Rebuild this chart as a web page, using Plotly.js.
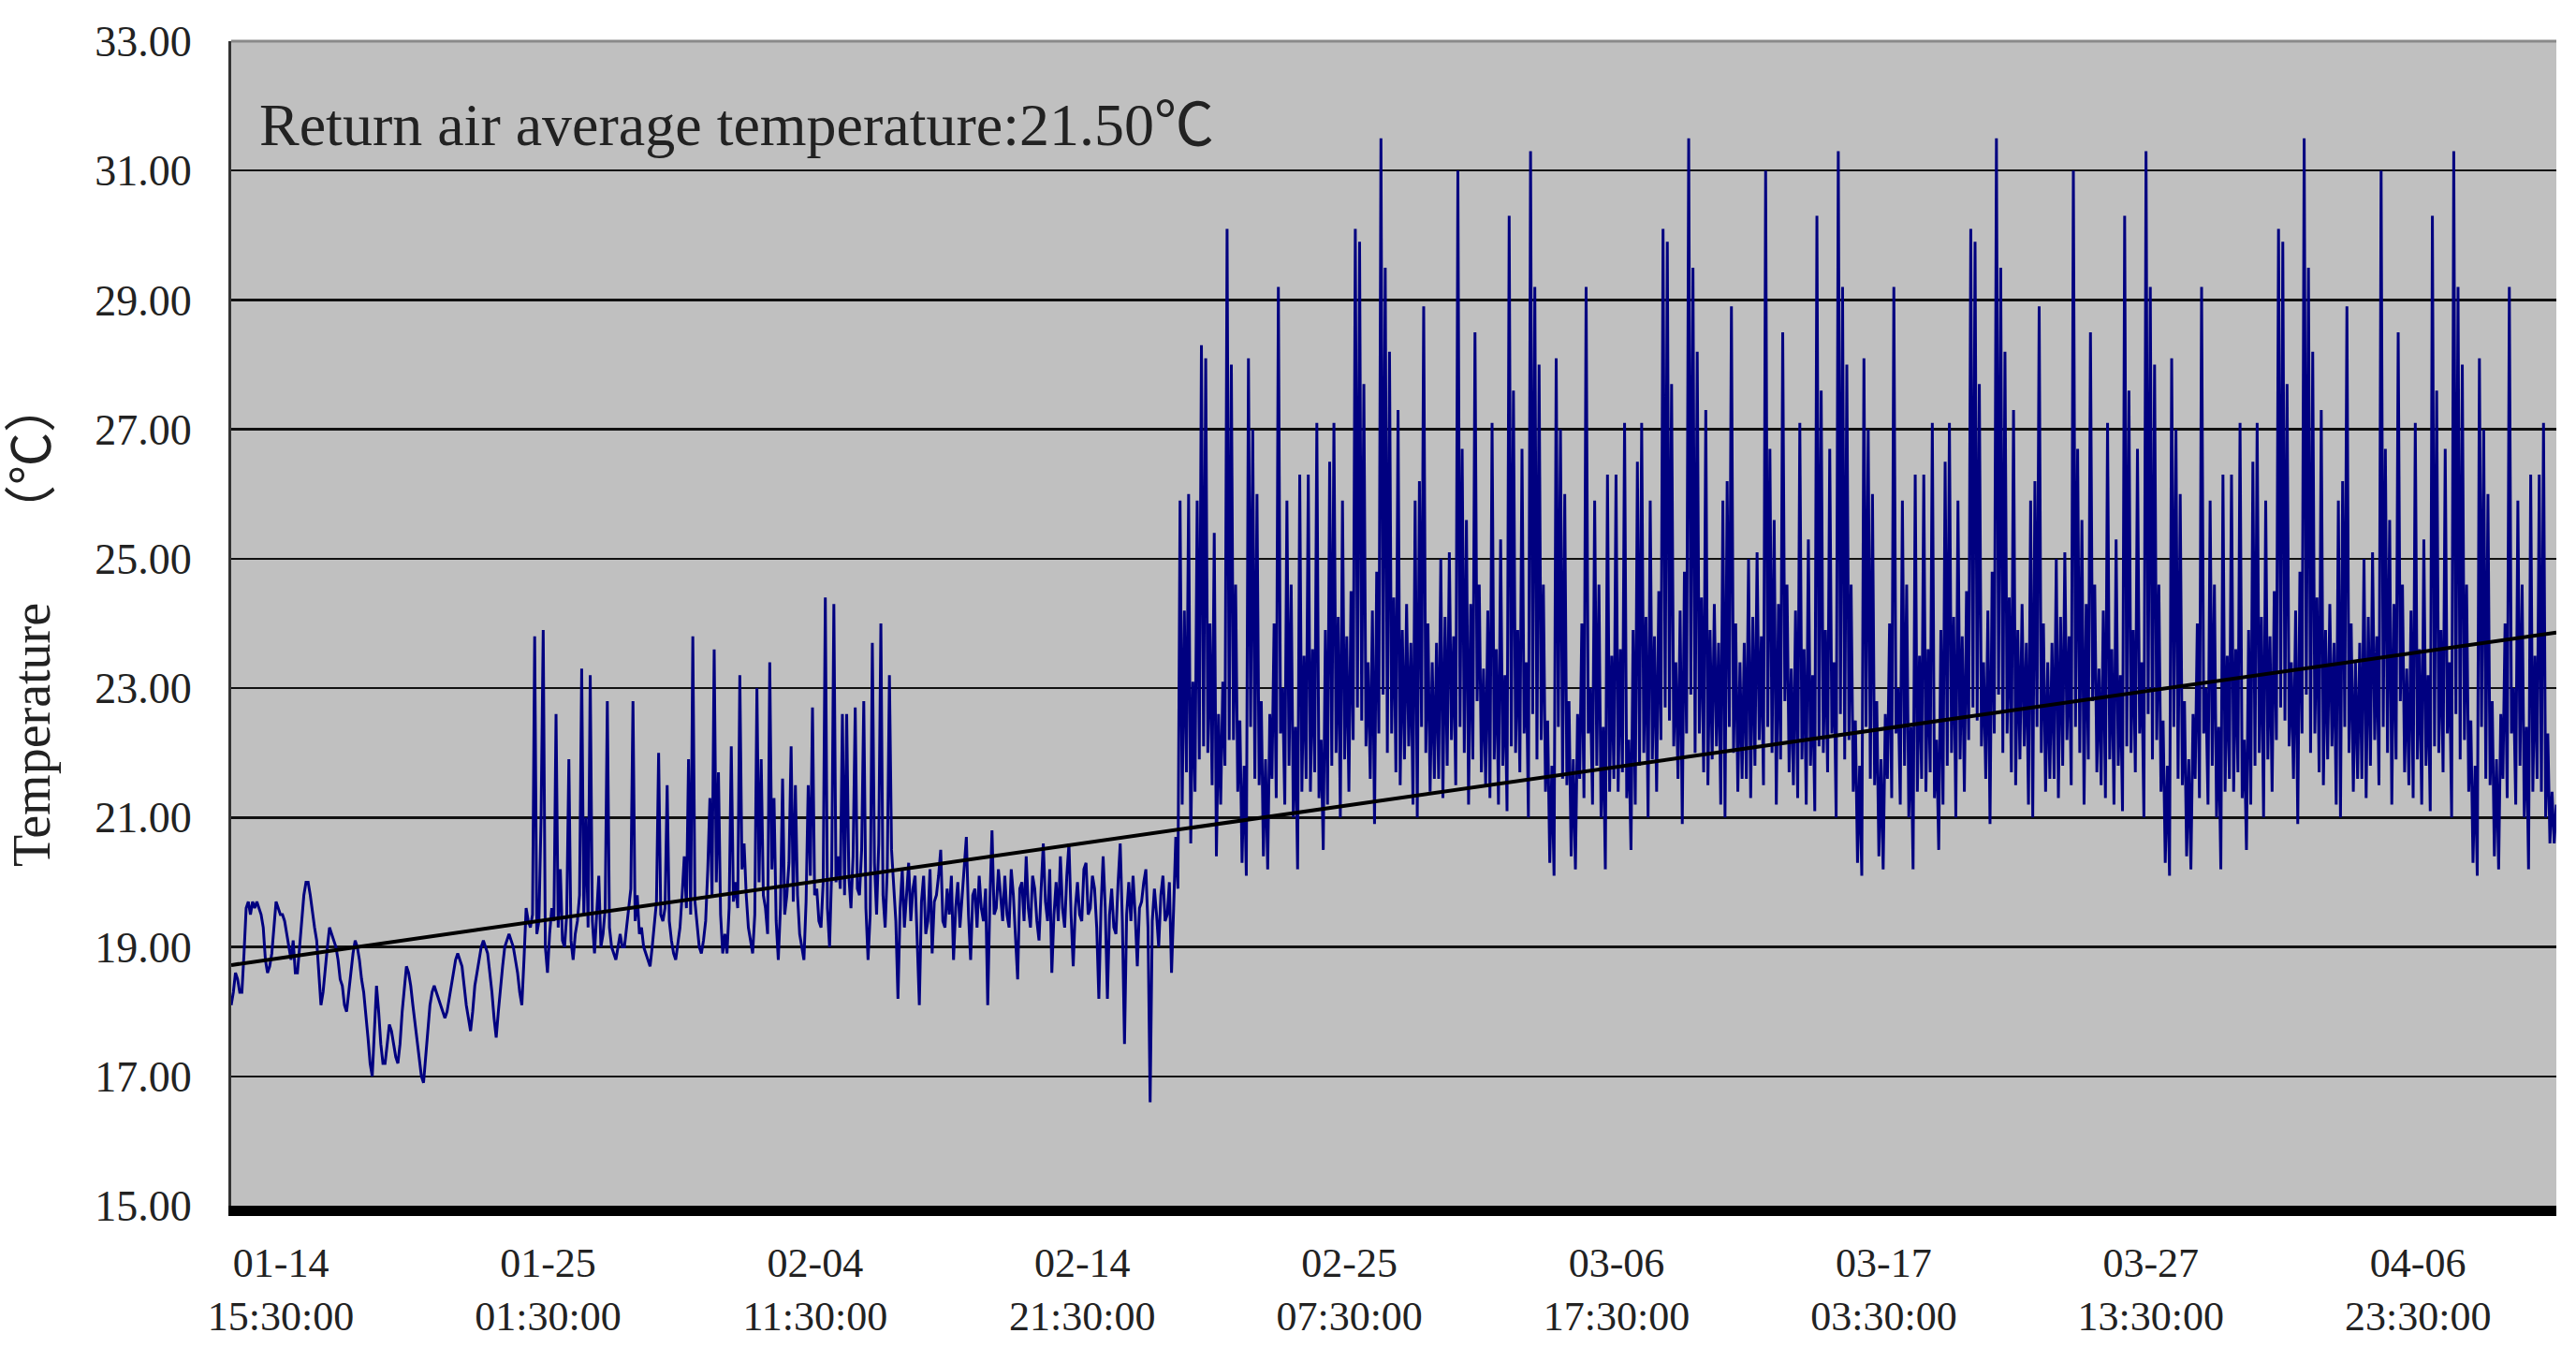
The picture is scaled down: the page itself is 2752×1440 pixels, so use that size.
<!DOCTYPE html>
<html>
<head>
<meta charset="utf-8">
<script src="https://cdn.plot.ly/plotly-3.0.1.min.js"></script>
<style>
  body { margin: 0; background: #ffffff; }
  #chart { width: 2752px; height: 1440px; }
</style>
</head>
<body>
<div id="chart"></div>
<script>
// return air temperature, one reading every 2 hours (12 per day)
var temp0112 = [
    18.1, 18.3, 18.6, 18.5, 18.3, 18.3, 18.9, 19.6, 19.7, 19.5, 19.7, 19.6,
    19.7, 19.6, 19.5, 19.3, 18.8, 18.6, 18.7, 18.9, 19.3, 19.7, 19.6, 19.5,
    19.5, 19.4, 19.2, 19.0, 18.8, 19.1, 18.6, 18.6, 19.0, 19.4, 19.8, 20.0,
    20.0, 19.8, 19.5, 19.3, 19.1, 18.6, 18.1, 18.3, 18.7, 19.0, 19.3, 19.2,
    19.1, 19.0, 18.8, 18.5, 18.4, 18.1, 18.0, 18.3, 18.6, 18.9, 19.1, 19.0,
    18.8, 18.5, 18.3, 18.0, 17.6, 17.2, 17.0, 17.7, 18.4, 18.0, 17.5, 17.2,
    17.2, 17.5, 17.8, 17.7, 17.5, 17.3, 17.2, 17.5, 18.0, 18.4, 18.7, 18.6,
    18.4, 18.1, 17.8, 17.5, 17.2, 17.0, 16.9, 17.3, 17.8, 18.1, 18.3, 18.4,
    18.3, 18.2, 18.1, 18.0, 17.9, 18.0, 18.2, 18.4, 18.6, 18.8, 18.9, 18.8,
    18.7, 18.4, 18.1, 17.9, 17.7, 18.0, 18.4, 18.6, 18.8, 19.0, 19.1, 19.0,
    18.9, 18.6, 18.3, 17.9, 17.6, 18.0, 18.4, 18.7, 19.0, 19.1, 19.2, 19.1,
    19.0, 18.8, 18.6, 18.3, 18.1, 18.8, 19.6, 19.4, 19.3, 19.5, 23.8, 19.2,
    19.4, 21.0, 23.9, 19.0, 18.6, 19.2, 19.6, 19.4, 22.6, 19.3, 20.2, 19.1,
    19.0, 19.5, 21.9, 19.1, 18.8, 19.2, 19.4, 19.8, 23.3, 19.5, 21.0, 19.3,
    23.2, 19.4, 18.9, 19.5, 20.1, 19.0, 19.2, 19.6, 22.8, 19.3, 19.0, 18.9,
    18.8, 19.0, 19.2, 19.0, 19.0, 19.3, 19.6, 19.9, 22.8, 19.4, 19.8, 19.2,
    19.3, 19.0, 18.9, 18.8, 18.7, 19.0, 19.4, 19.7, 22.0, 19.5, 19.4, 19.6,
    21.5, 19.4, 19.1, 18.9, 18.8, 19.1, 19.3, 19.8, 20.4, 19.6, 21.9, 19.5
];
var temp0130 = [
    23.8, 19.7, 19.4, 19.0, 18.9, 19.1, 19.4, 20.2, 21.3, 19.8, 23.6, 20.0,
    21.7, 19.5, 18.9, 19.2, 18.9, 19.6, 22.1, 19.7, 20.0, 19.6, 23.2, 20.2,
    20.6, 19.8, 19.3, 19.1, 18.9, 19.5, 23.0, 20.0, 21.9, 19.8, 19.6, 19.2,
    23.4, 20.2, 21.3, 19.4, 18.8, 19.6, 21.6, 19.5, 19.8, 20.3, 22.1, 19.7,
    21.5, 19.8, 19.2, 19.0, 18.8, 19.7, 21.5, 20.1, 22.7, 19.8, 19.9, 19.4,
    19.3, 20.0, 24.4, 19.6, 19.0, 20.2, 24.3, 20.0, 20.4, 19.9, 22.6, 19.8,
    22.6, 20.1, 19.6, 20.4, 22.7, 19.9, 19.8, 20.5, 22.8, 19.6, 18.8, 19.5,
    23.7, 20.3, 19.5, 20.6, 24.0, 19.8, 19.3, 20.2, 23.2, 20.5, 20.0, 19.4,
    18.2, 19.6, 20.2, 19.3, 19.8, 20.3, 19.4, 19.9, 20.1, 19.2, 18.1, 19.7,
    20.1, 19.2, 19.4, 20.2, 18.9, 19.7, 19.8, 20.1, 20.5, 19.4, 19.3, 19.9,
    19.5, 20.1, 18.8, 19.6, 20.0, 19.3, 19.8, 20.3, 20.7, 19.5, 18.8, 19.8,
    19.9, 19.3, 20.1, 19.6, 19.4, 19.9, 18.1, 19.7, 20.8, 19.5, 19.6, 20.2,
    19.8, 19.4, 20.1, 19.5, 19.3, 20.2, 19.8, 19.2, 18.5, 19.9, 20.0, 19.4,
    20.4, 19.6, 19.3, 20.1, 19.9, 19.4, 19.1, 19.9, 20.6, 19.7, 19.4, 20.2,
    18.6, 19.5, 20.0, 19.4, 20.4, 19.6, 19.3, 20.1, 20.6, 19.5, 18.7, 19.6,
    20.0, 19.5, 19.4, 20.2, 20.3, 19.5, 19.6, 20.1, 19.9, 19.3, 18.2, 19.6,
    20.4, 19.6, 18.2, 19.5, 19.9, 19.3, 19.2, 20.0, 20.6, 19.4, 17.5, 19.5,
    20.0, 19.4, 20.1, 19.5, 18.7, 19.6, 19.7, 20.0, 20.2, 19.3, 16.6, 19.4,
    19.9, 19.5, 19.0, 19.8, 20.1, 19.4, 19.5, 20.0, 18.6, 19.6, 20.7, 19.9
];
var temp0218 = [
    25.9, 21.2, 24.2, 21.7, 26.0, 20.6, 23.1, 21.4, 25.9, 21.9, 28.3, 22.1,
    28.1, 22.0, 24.0, 21.5, 25.4, 20.4, 22.6, 21.2, 23.1, 21.8, 30.1, 22.2,
    28.0, 22.2, 24.6, 21.4, 22.5, 20.3, 21.8, 20.1, 28.1, 22.4, 27.0, 21.6,
    26.0, 21.5, 22.8, 20.4, 21.9, 20.2, 22.6, 21.6, 24.0, 21.3, 29.2, 22.3,
    23.0, 21.2, 25.9, 21.8, 24.6, 21.0, 22.4, 20.2, 26.3, 21.4, 23.5, 21.6,
    26.3, 21.4, 23.6, 21.7, 27.1, 21.3, 22.2, 20.5, 23.9, 21.2, 26.5, 21.8,
    27.1, 22.0, 24.1, 21.0, 25.9, 21.9, 23.8, 21.4, 24.5, 22.2, 30.1, 22.7,
    29.9, 22.5, 27.7, 22.1, 23.4, 21.6, 24.2, 20.9, 24.8, 22.3, 31.5, 22.9,
    29.5, 22.0, 28.2, 22.3, 24.4, 21.7, 27.3, 21.5, 23.9, 21.9, 24.3, 22.1,
    23.7, 21.2, 25.9, 21.0, 26.2, 22.4, 28.9, 22.0, 24.0, 21.4, 23.4, 21.6,
    23.7, 21.6, 25.0, 21.3, 24.1, 21.8, 25.1, 22.2, 23.8, 21.5, 31.0, 22.4,
    26.7, 22.0, 25.6, 21.2, 24.3, 21.9, 28.5, 22.8, 24.6, 21.7, 23.3, 21.5,
    24.2, 21.3, 27.1, 21.9, 23.6, 21.2, 25.3, 21.8, 23.2, 21.1, 30.3, 22.1,
    27.6, 22.0, 23.9, 21.7, 26.7, 22.3, 23.4, 21.0, 31.3, 22.6, 29.2, 21.9,
    28.0, 22.2, 24.6, 21.4, 22.5, 20.3, 21.8, 20.1, 28.1, 22.4, 27.0, 21.6,
    26.0, 21.5, 22.8, 20.4, 21.9, 20.2, 22.6, 21.6, 24.0, 21.3, 29.2, 22.3,
    23.0, 21.2, 25.9, 21.8, 24.6, 21.0, 22.4, 20.2, 26.3, 21.4, 23.5, 21.6,
    26.3, 21.4, 23.6, 21.7, 27.1, 21.3, 22.2, 20.5, 23.9, 21.2, 26.5, 21.8
];
var temp0307 = [
    27.1, 22.0, 24.1, 21.0, 25.9, 21.9, 23.8, 21.4, 24.5, 22.2, 30.1, 22.7,
    29.9, 22.5, 27.7, 22.1, 23.4, 21.6, 24.2, 20.9, 24.8, 22.3, 31.5, 22.9,
    29.5, 22.0, 28.2, 22.3, 24.4, 21.7, 27.3, 21.5, 23.9, 21.9, 24.3, 22.1,
    23.7, 21.2, 25.9, 21.0, 26.2, 22.4, 28.9, 22.0, 24.0, 21.4, 23.4, 21.6,
    23.7, 21.6, 25.0, 21.3, 24.1, 21.8, 25.1, 22.2, 23.8, 21.5, 31.0, 22.4,
    26.7, 22.0, 25.6, 21.2, 24.3, 21.9, 28.5, 22.8, 24.6, 21.7, 23.3, 21.5,
    24.2, 21.3, 27.1, 21.9, 23.6, 21.2, 25.3, 21.8, 23.2, 21.1, 30.3, 22.1,
    27.6, 22.0, 23.9, 21.7, 26.7, 22.3, 23.4, 21.0, 31.3, 22.6, 29.2, 21.9,
    28.0, 22.2, 24.6, 21.4, 22.5, 20.3, 21.8, 20.1, 28.1, 22.4, 27.0, 21.6,
    26.0, 21.5, 22.8, 20.4, 21.9, 20.2, 22.6, 21.6, 24.0, 21.3, 29.2, 22.3,
    23.0, 21.2, 25.9, 21.8, 24.6, 21.0, 22.4, 20.2, 26.3, 21.4, 23.5, 21.6,
    26.3, 21.4, 23.6, 21.7, 27.1, 21.3, 22.2, 20.5, 23.9, 21.2, 26.5, 21.8,
    27.1, 22.0, 24.1, 21.0, 25.9, 21.9, 23.8, 21.4, 24.5, 22.2, 30.1, 22.7,
    29.9, 22.5, 27.7, 22.1, 23.4, 21.6, 24.2, 20.9, 24.8, 22.3, 31.5, 22.9,
    29.5, 22.0, 28.2, 22.3, 24.4, 21.7, 27.3, 21.5, 23.9, 21.9, 24.3, 22.1,
    23.7, 21.2, 25.9, 21.0, 26.2, 22.4, 28.9, 22.0, 24.0, 21.4, 23.4, 21.6,
    23.7, 21.6, 25.0, 21.3, 24.1, 21.8, 25.1, 22.2, 23.8, 21.5, 31.0, 22.4,
    26.7, 22.0, 25.6, 21.2, 24.3, 21.9, 28.5, 22.8, 24.6, 21.7, 23.3, 21.5
];
var temp0325 = [
    24.2, 21.3, 27.1, 21.9, 23.6, 21.2, 25.3, 21.8, 23.2, 21.1, 30.3, 22.1,
    27.6, 22.0, 23.9, 21.7, 26.7, 22.3, 23.4, 21.0, 31.3, 22.6, 29.2, 21.9,
    28.0, 22.2, 24.6, 21.4, 22.5, 20.3, 21.8, 20.1, 28.1, 22.4, 27.0, 21.6,
    26.0, 21.5, 22.8, 20.4, 21.9, 20.2, 22.6, 21.6, 24.0, 21.3, 29.2, 22.3,
    23.0, 21.2, 25.9, 21.8, 24.6, 21.0, 22.4, 20.2, 26.3, 21.4, 23.5, 21.6,
    26.3, 21.4, 23.6, 21.7, 27.1, 21.3, 22.2, 20.5, 23.9, 21.2, 26.5, 21.8,
    27.1, 22.0, 24.1, 21.0, 25.9, 21.9, 23.8, 21.4, 24.5, 22.2, 30.1, 22.7,
    29.9, 22.5, 27.7, 22.1, 23.4, 21.6, 24.2, 20.9, 24.8, 22.3, 31.5, 22.9,
    29.5, 22.0, 28.2, 22.3, 24.4, 21.7, 27.3, 21.5, 23.9, 21.9, 24.3, 22.1,
    23.7, 21.2, 25.9, 21.0, 26.2, 22.4, 28.9, 22.0, 24.0, 21.4, 23.4, 21.6,
    23.7, 21.6, 25.0, 21.3, 24.1, 21.8, 25.1, 22.2, 23.8, 21.5, 31.0, 22.4,
    26.7, 22.0, 25.6, 21.2, 24.3, 21.9, 28.5, 22.8, 24.6, 21.7, 23.3, 21.5,
    24.2, 21.3, 27.1, 21.9, 23.6, 21.2, 25.3, 21.8, 23.2, 21.1, 30.3, 22.1,
    27.6, 22.0, 23.9, 21.7, 26.7, 22.3, 23.4, 21.0, 31.3, 22.6, 29.2, 21.9,
    28.0, 22.2, 24.6, 21.4, 22.5, 20.3, 21.8, 20.1, 28.1, 22.4, 27.0, 21.6,
    26.0, 21.5, 22.8, 20.4, 21.9, 20.2, 22.6, 21.6, 24.0, 21.3, 29.2, 22.3,
    23.0, 21.2, 25.9, 21.8, 24.6, 21.0, 22.4, 20.2, 26.3, 21.4, 23.5, 21.6,
    26.3, 21.4, 27.1, 21.0, 22.3, 20.6, 21.4, 20.6, 21.2
];

// linear trend, value at the first and last reading
var trendValues = [18.72, 23.86];

var tickDates = ['2016-01-14 15:30', '2016-01-25 01:30', '2016-02-04 11:30',
                 '2016-02-14 21:30', '2016-02-25 07:30', '2016-03-06 17:30',
                 '2016-03-17 03:30', '2016-03-27 13:30', '2016-04-06 23:30'];
var tickLabels = ['01-14<br>15:30:00', '01-25<br>01:30:00', '02-04<br>11:30:00',
                  '02-14<br>21:30:00', '02-25<br>07:30:00', '03-06<br>17:30:00',
                  '03-17<br>03:30:00', '03-27<br>13:30:00', '04-06<br>23:30:00'];

var avgText = 'Return air average temperature:21.50℃';

var temps = temp0112.concat(temp0130, temp0218, temp0307, temp0325);

// sample clock: first reading 2016-01-12 17:00, every 2 hours
var t0 = Date.UTC(2016, 0, 12, 17, 0);
function fmt(ms) {
    return new Date(ms).toISOString().slice(0, 16).replace('T', ' ');
}
var times = temps.map(function (v, i) { return fmt(t0 + i * 2 * 3600e3); });
var trendTimes = [times[0], times[times.length - 1]];

var serif = 'Liberation Serif, "Noto Sans CJK SC", serif';

var data = [
    {
        x: times, y: temps,
        type: 'scatter', mode: 'lines',
        line: {color: '#000080', width: 3}
    },
    {
        x: trendTimes, y: trendValues,
        type: 'scatter', mode: 'lines',
        line: {color: '#000000', width: 4}
    }
];

var layout = {
    width: 2752, height: 1440,
    margin: {l: 247, r: 21, t: 44, b: 152},
    paper_bgcolor: '#ffffff',
    plot_bgcolor: '#c0c0c0',
    showlegend: false,
    hovermode: false,
    font: {family: serif, size: 46, color: '#222222'},
    xaxis: {
        type: 'date',
        range: [times[0], times[times.length - 1]],
        tickvals: tickDates,
        ticktext: tickLabels,
        tickfont: {family: serif, size: 44, color: '#222222'},
        ticks: '',
        ticklabelstandoff: 12,
        showgrid: false,
        zeroline: false,
        showline: true,
        linecolor: '#000000',
        linewidth: 11
    },
    yaxis: {
        range: [15, 33],
        tick0: 15,
        dtick: 2,
        tickformat: '.2f',
        tickfont: {family: serif, size: 46, color: '#222222'},
        ticks: '',
        ticklabelstandoff: 30,
        showgrid: true,
        gridcolor: '#111111',
        gridwidth: 2.5,
        zeroline: false,
        showline: true,
        linecolor: '#333333',
        linewidth: 3,
        title: {
            text: 'Temperature　 （℃）',
            font: {family: serif, size: 56, color: '#222222'},
            standoff: 30
        }
    },
    shapes: [{
        type: 'line', xref: 'paper', yref: 'paper',
        x0: 0, x1: 1, y0: 1, y1: 1,
        line: {color: '#8a8a8a', width: 3},
        layer: 'above'
    }],
    annotations: [{
        text: avgText,
        xref: 'paper', yref: 'paper',
        x: 0, y: 0.928, xshift: 28,
        xanchor: 'left', yanchor: 'middle',
        showarrow: false,
        font: {family: serif, size: 64, color: '#222222'}
    }]
};

Plotly.newPlot('chart', data, layout, {staticPlot: true});
</script>
</body>
</html>
